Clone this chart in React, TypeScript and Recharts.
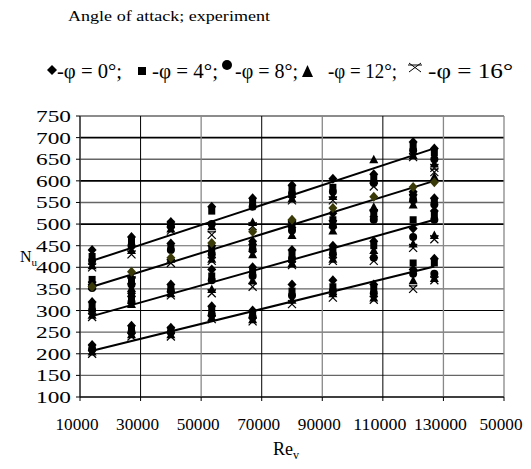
import React from 'react';
import { ScatterChart, Scatter, XAxis, YAxis, CartesianGrid, ReferenceLine } from 'recharts';

// Re_v positions of the measurement columns
const reynolds = [14000, 27000, 40000, 53500, 67000, 80000, 93500, 107000, 120000, 127000];

// Nu per angle of attack, one row per tube group (top band to bottom band)
const nuPhi0 = [
  [440, 470, 505, 540, 560, 590, 605, 615, 690, 675],
  [360, 375, 455, 450, 460, 505, 525, 530, 575, 560],
  [320, 340, 360, 395, 400, 440, 450, 460, 490, 530],
  [220, 265, 260, 310, 300, 360, 370, 360, 395, 420],
];
const nuPhi4 = [
  [425, 460, 500, 530, 550, 580, 585, 605, 680, 665],
  [372, 365, 445, 440, 450, 495, 510, 520, 565, 550],
  [310, 330, 350, 380, 390, 430, 440, 450, 510, 520],
  [215, 255, 255, 300, 290, 345, 355, 350, 410, 410],
];
const nuPhi8 = [
  [415, 450, 495, 500, 540, 570, 575, 595, 670, 650],
  [352, 360, 440, 430, 440, 485, 495, 510, 555, 545],
  [300, 320, 345, 370, 380, 420, 430, 422, 470, 510],
  [210, 250, 250, 290, 285, 335, 345, 340, 385, 385],
];
const nuPhi12 = [
  [405, 440, 490, 495, 505, 560, 565, 650, 660, 640],
  [365, 352, 420, 420, 430, 475, 485, 540, 545, 610],
  [290, 315, 340, 350, 370, 410, 420, 440, 455, 475],
  [205, 245, 245, 285, 280, 325, 340, 330, 370, 375],
];
const nuPhi16 = [
  [400, 430, 485, 475, 495, 555, 555, 587, 655, 630],
  [358, 370, 410, 415, 445, 500, 500, 525, 560, 620],
  [285, 325, 335, 340, 355, 405, 415, 415, 445, 465],
  [200, 240, 240, 280, 275, 315, 330, 325, 350, 370],
];
// olive points sitting on the second trend line
const nuOlive = [355, 390, 422, 456, 482, 510, 537, 563, 586, 597];

// trend lines, Nu at first and last column
const trendRe = [14000, 127000];
const trendStart = [415, 355, 287, 207];
const trendEnd = [675, 600, 510, 402];

const xTicks = [10000, 30000, 50000, 70000, 90000, 110000, 130000, 150000];
const xTickLabels = ['10000', '30000', '50000', '70000', '90000', '110000', '130000', '50000'];
const yTicks = [100, 150, 200, 250, 300, 350, 400, 450, 500, 550, 600, 650, 700, 750];

const serif = { fontFamily: '"Liberation Serif", "Times New Roman", Times, serif' };

const toPoints = (rows: number[][]) =>
  rows.flatMap((row) => row.map((nu, i) => ({ re: reynolds[i], nu })));

const Diamond = (p: any) => (
  <polygon
    points={`${p.cx},${p.cy - 5} ${p.cx + 4.5},${p.cy} ${p.cx},${p.cy + 5} ${p.cx - 4.5},${p.cy}`}
    fill={p.color || '#000'}
  />
);
const Square = (p: any) => <rect x={p.cx - 3.5} y={p.cy - 3.5} width={7} height={7} fill="#000" />;
const Circle = (p: any) => <circle cx={p.cx} cy={p.cy} r={4} fill="#000" />;
const Triangle = (p: any) => (
  <polygon points={`${p.cx},${p.cy - 4.5} ${p.cx + 4.5},${p.cy + 4} ${p.cx - 4.5},${p.cy + 4}`} fill="#000" />
);
const Cross = (p: any) => (
  <g stroke="#000" strokeWidth={1.2}>
    <line x1={p.cx - 4} y1={p.cy - 4} x2={p.cx + 4} y2={p.cy + 4} />
    <line x1={p.cx + 4} y1={p.cy - 4} x2={p.cx - 4} y2={p.cy + 4} />
    <line x1={p.cx - 4} y1={p.cy - 3} x2={p.cx + 4} y2={p.cy - 3} />
  </g>
);

const XTick = (props: any) => {
  const idx = xTicks.indexOf(props.payload.value);
  const label = xTickLabels[idx];
  return (
    <text x={props.x - 3} y={props.y + 27} textAnchor="middle" style={serif} fontSize={17.5}
      textLength={label.length === 6 ? 53 : 43} lengthAdjust="spacingAndGlyphs" fill="#000">
      {label}
    </text>
  );
};

const YTick = (props: any) => (
  <text x={props.x - 3} y={props.y + 6} textAnchor="end" style={serif} fontSize={17.5}
    textLength={35} lengthAdjust="spacingAndGlyphs" fill="#000">
    {props.payload.value}
  </text>
);

const VLine = (props: any) => {
  const gray = props.index % 2 === 0 || props.index === xTicks.length - 1;
  return (
    <line x1={props.x1} y1={props.y1} x2={props.x2} y2={props.y2}
      stroke={gray ? '#888' : '#000'} strokeWidth={gray ? 1.3 : 1} />
  );
};

const HLine = (props: any) => {
  const gray = props.index % 2 === 1;
  return (
    <line x1={props.x1} y1={props.y1} x2={props.x2} y2={props.y2}
      stroke={gray ? '#666' : '#000'} strokeWidth={props.y1 < 230 ? 1.6 : 1.1} />
  );
};

export default function App() {
  const legend = [
    { shape: <polygon points="52,65 57,70 52,75 47,70" fill="#000" />, text: '-φ = 0°;', x: 57, w: 65 },
    { shape: <rect x={138} y={67} width={8} height={8} fill="#000" />, text: '-φ = 4°;', x: 152, w: 66 },
    { shape: <circle cx={227} cy={65} r={5} fill="#000" />, text: '-φ = 8°;', x: 235, w: 63 },
    { shape: <polygon points="307.5,65 313,77 302,77" fill="#000" />, text: '-φ = 12°;', x: 328, w: 69 },
    {
      shape: (
        <g stroke="#000" strokeWidth={1}>
          <line x1={409} y1={63} x2={421} y2={72} />
          <line x1={421} y1={63} x2={409} y2={72} />
          <line x1={408} y1={65} x2={422} y2={65} />
        </g>
      ),
      text: '-φ = 16°',
      x: 428,
      w: 85,
    },
  ];

  return (
    <div style={{ position: 'absolute', left: 0, top: 0, width: 531, height: 469, background: '#fff' }}>
      <ScatterChart width={531} height={469} margin={{ top: 116, right: 27, left: 20, bottom: 42 }}>
        <CartesianGrid stroke="#000" horizontal={HLine as any} vertical={VLine as any} />
        <XAxis
          type="number"
          dataKey="re"
          domain={[10000, 150000]}
          ticks={xTicks}
          interval={0}
          height={30}
          tick={<XTick />}
          tickSize={4}
          stroke="#000"
          allowDataOverflow
        />
        <YAxis
          type="number"
          dataKey="nu"
          domain={[100, 750]}
          ticks={yTicks}
          interval={0}
          width={60}
          tick={<YTick />}
          tickSize={4}
          stroke="#000"
          allowDataOverflow
        />
        {trendStart.map((s, i) => (
          <ReferenceLine
            key={`trend-${i}`}
            segment={[
              { x: trendRe[0], y: s },
              { x: trendRe[1], y: trendEnd[i] },
            ]}
            stroke="#000"
            strokeWidth={2}
          />
        ))}
        <Scatter name="φ = 0°" data={toPoints(nuPhi0)} shape={Diamond} isAnimationActive={false} />
        <Scatter name="φ = 4°" data={toPoints(nuPhi4)} shape={Square} isAnimationActive={false} />
        <Scatter name="φ = 8°" data={toPoints(nuPhi8)} shape={Circle} isAnimationActive={false} />
        <Scatter name="φ = 12°" data={toPoints(nuPhi12)} shape={Triangle} isAnimationActive={false} />
        <Scatter name="φ = 16°" data={toPoints(nuPhi16)} shape={Cross} isAnimationActive={false} />
        <Scatter
          name="olive"
          data={toPoints([nuOlive])}
          shape={(p: any) => <Diamond {...p} color="#3a3a08" />}
          isAnimationActive={false}
        />
      </ScatterChart>

      <svg width={531} height={469} style={{ position: 'absolute', left: 0, top: 0, pointerEvents: 'none', ...serif }}>
        <text x={68} y={21} fontSize={15} textLength={202} lengthAdjust="spacingAndGlyphs">
          Angle of attack; experiment
        </text>
        {legend.map((l) => (
          <g key={l.text}>
            {l.shape}
            <text x={l.x} y={78} fontSize={20} textLength={l.w} lengthAdjust="spacingAndGlyphs">
              {l.text}
            </text>
          </g>
        ))}
        <text x={20} y={262} fontSize={16}>
          N<tspan fontSize={11} dy={4}>u</tspan>
        </text>
        <text x={273} y={455} fontSize={18}>
          Re<tspan fontSize={12} dy={4}>v</tspan>
        </text>
      </svg>
    </div>
  );
}
